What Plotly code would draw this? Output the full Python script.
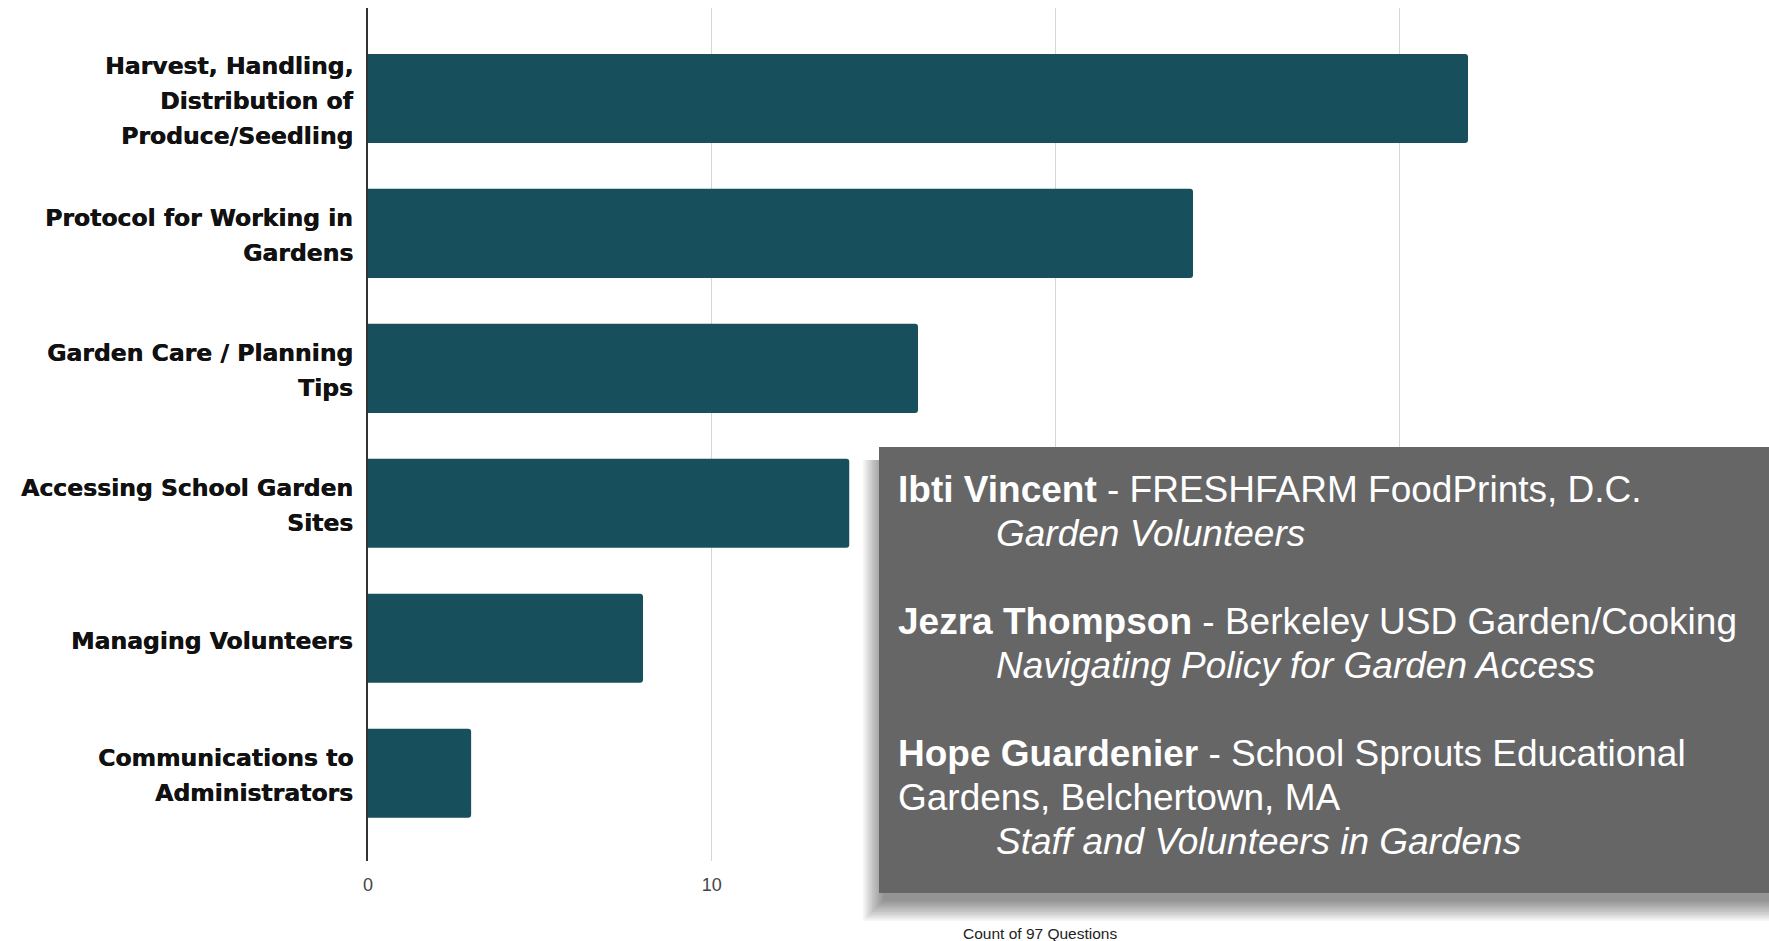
import plotly.graph_objects as go

categories = [
    "Harvest, Handling,<br>Distribution of<br>Produce/Seedling",
    "Protocol for Working in<br>Gardens",
    "Garden Care / Planning<br>Tips",
    "Accessing School Garden<br>Sites",
    "Managing Volunteers",
    "Communications to<br>Administrators",
]
counts = [32, 24, 16, 14, 8, 3]
x_ticks = [0, 10, 20, 30, 40]
x_title = "Count of 97 Questions"

box_lines = [
    ("<b>Ibti Vincent</b> - FRESHFARM FoodPrints, D.C.", False),
    ("<i>Garden Volunteers</i>", True),
    ("<b>Jezra Thompson</b> - Berkeley USD Garden/Cooking", False),
    ("<i>Navigating Policy for Garden Access</i>", True),
    ("<b>Hope Guardenier</b> - School Sprouts Educational", False),
    ("Gardens, Belchertown, MA", False),
    ("<i>Staff and Volunteers in Gardens</i>", True),
]
box_line_y = [489, 533, 621, 665, 753, 797, 841]

W, H = 1769, 941
L, R, T, B = 368, 26, 8, 80
PW, PH = W - L - R, H - T - B


def px(x):
    return (x - L) / PW


def py(y):
    return (H - B - y) / PH


fig = go.Figure(
    go.Bar(
        x=counts,
        y=categories,
        orientation="h",
        marker=dict(color="#184F5C", cornerradius=3, line=dict(width=0)),
        width=0.66,
    )
)

shapes = []
for i in range(10):
    g = i * 2.2
    shapes.append(dict(
        type="rect", xref="paper", yref="paper", layer="above",
        x0=px(879 - g + 4), x1=px(1769 + 40), y0=py(893 + 8 + g), y1=py(460),
        fillcolor="rgba(0,0,0,0.05)", line=dict(width=0),
    ))
shapes.append(dict(
    type="rect", xref="paper", yref="paper", layer="above",
    x0=px(879), x1=px(1769 + 40), y0=py(893), y1=py(447),
    fillcolor="#666666", line=dict(width=0),
))

annotations = []
LINE = 35
for cat in categories:
    parts = cat.split("<br>")
    n = len(parts)
    for k, part in enumerate(parts):
        annotations.append(dict(
            text=part, xref="paper", yref="y", x=0, y=cat,
            xanchor="right", yanchor="middle", xshift=-13,
            yshift=-(k - (n - 1) / 2) * LINE - 2.5,
            showarrow=False,
            font=dict(family="DejaVu Sans, Verdana, sans-serif", size=23.5,
                      color="#111111", weight="bold",
                      shadow="0.45px 0px 0px #111111"),
        ))

for (txt, indent), yy in zip(box_lines, box_line_y):
    annotations.append(dict(
        text=txt, xref="paper", yref="paper",
        x=px(994 if indent else 896), y=py(yy),
        xanchor="left", yanchor="middle", showarrow=False,
        font=dict(family="Liberation Sans, Arial, sans-serif", size=37, color="#ffffff"),
    ))

annotations.append(dict(
    text=x_title, xref="paper", yref="paper", x=px(1040), y=py(933),
    xanchor="center", yanchor="middle", showarrow=False,
    font=dict(family="Liberation Sans, Arial, sans-serif", size=15.5, color="#222222"),
))

fig.update_layout(
    width=W, height=H,
    margin=dict(l=L, r=R, t=T, b=B, pad=0),
    paper_bgcolor="#ffffff", plot_bgcolor="#ffffff",
    showlegend=False,
    bargap=0.34,
    shapes=shapes,
    annotations=annotations,
    xaxis=dict(
        range=[0, 40], tickvals=x_ticks, ticktext=[str(v) for v in x_ticks],
        showgrid=True, gridcolor="#d6d6d6", gridwidth=1,
        zeroline=False, showline=False, ticks="",
        ticklabelstandoff=11,
        tickfont=dict(family="Liberation Sans, Arial, sans-serif", size=18, color="#444444"),
    ),
    yaxis=dict(
        range=[5.65, -0.67], type="category",
        categoryorder="array", categoryarray=categories,
        showgrid=False, zeroline=False,
        showline=True, linecolor="#333333", linewidth=1.5,
        ticks="", showticklabels=False,
    ),
)

fig.write_html(
    "out.html",
    config={"displayModeBar": False},
    post_script="document.body.style.margin='0px';document.body.style.overflow='hidden';",
)
